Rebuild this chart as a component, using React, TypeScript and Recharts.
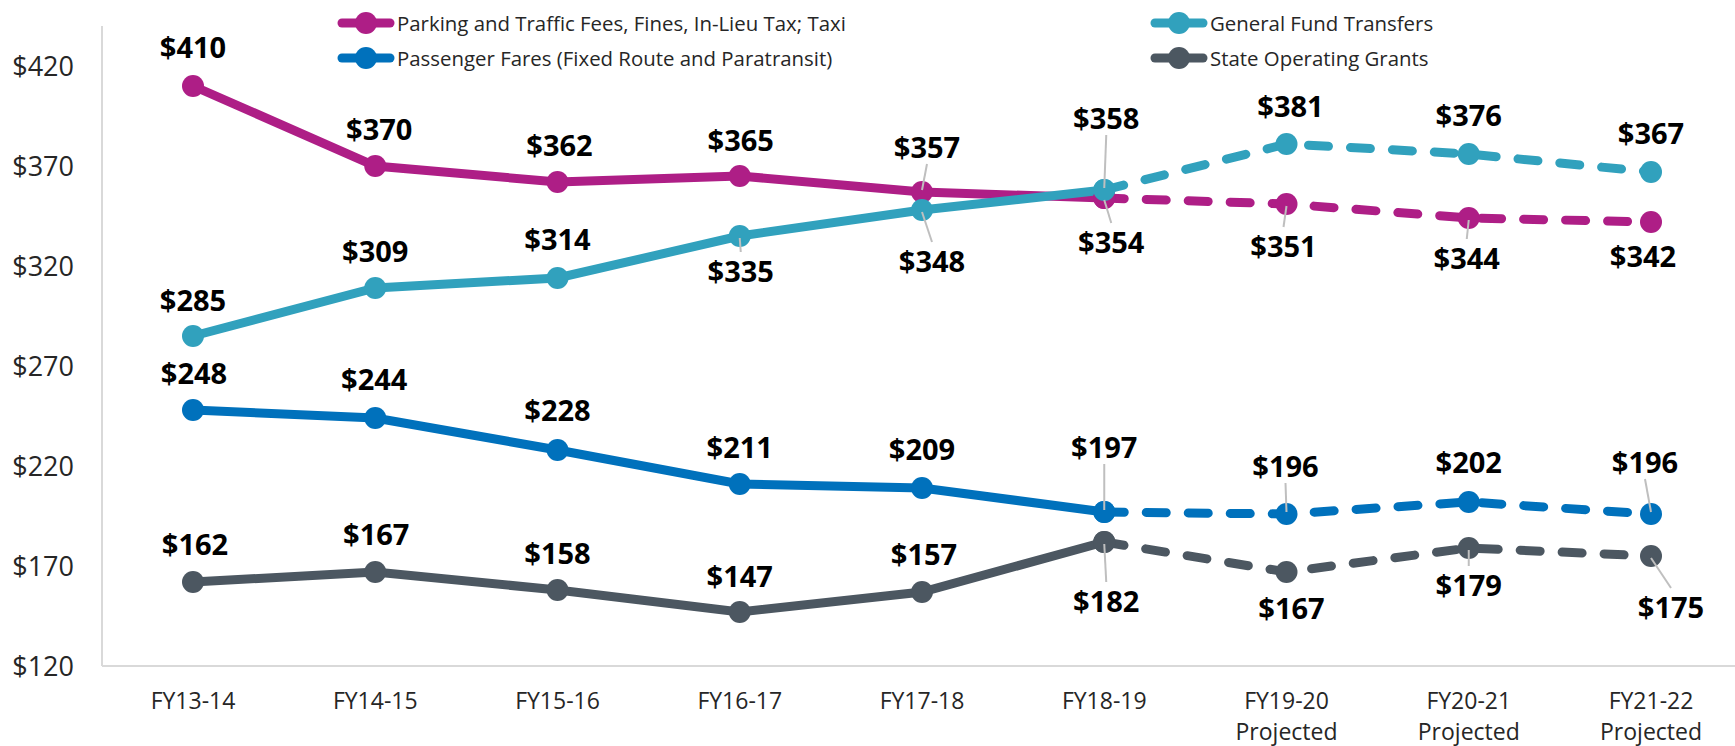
import React from 'react';
import { LineChart, Line, XAxis, YAxis, LabelList } from 'recharts';

const categories = ['FY13-14', 'FY14-15', 'FY15-16', 'FY16-17', 'FY17-18', 'FY18-19', 'FY19-20\nProjected', 'FY20-21\nProjected', 'FY21-22\nProjected'];
const parking = [410, 370, 362, 365, 357, 354, 351, 344, 342];
const generalFund = [285, 309, 314, 335, 348, 358, 381, 376, 367];
const passenger = [248, 244, 228, 211, 209, 197, 196, 202, 196];
const stateGrants = [162, 167, 158, 147, 157, 182, 167, 179, 175];
const yTicks = [120, 170, 220, 270, 320, 370, 420];
const lastActual = 5; // FY18-19, projections start after this

const FONT = '"Open Sans", sans-serif';

const series = [
    { key: 'parking', name: 'Parking and Traffic Fees, Fines, In-Lieu Tax; Taxi', values: parking, color: '#AE1E86' },
    { key: 'passenger', name: 'Passenger Fares (Fixed Route and Paratransit)', values: passenger, color: '#0071BC' },
    { key: 'state', name: 'State Operating Grants', values: stateGrants, color: '#4C5761' },
    { key: 'general', name: 'General Fund Transfers', values: generalFund, color: '#31A1BD' },
];

// label placement relative to each point: [dx, dy, leader line?]
const labelPos: Record<string, [number, number, boolean][]> = {
    parking: [[0, -40, false], [4, -38, false], [2, -38, false], [1, -37, false], [5, -46, true], [7, 43, true], [-3, 41, true], [-2, 39, true], [-8, 33, false]],
    general: [[0, -37, false], [0, -38, false], [0, -40, false], [1, 34, true], [10, 50, true], [2, -73, true], [4, -39, false], [0, -40, false], [0, -40, false]],
    passenger: [[1, -38, false], [-1, -40, false], [0, -41, false], [0, -38, false], [0, -40, false], [0, -66, true], [-1, -49, true], [0, -41, false], [-6, -53, true]],
    state: [[2, -39, false], [1, -39, false], [0, -38, false], [0, -37, false], [2, -39, false], [2, 58, true], [5, 35, false], [0, 36, true], [20, 50, true]],
};

const data = categories.map((c, i) => {
    const row: any = { name: c };
    series.forEach(s => {
        row[s.key] = s.values[i];
        row[s.key + 'Act'] = i <= lastActual ? s.values[i] : null;
        row[s.key + 'Proj'] = i >= lastActual ? s.values[i] : null;
    });
    return row;
});

const makeLabel = (key: string) => (props: any) => {
    const { x, y, index, value } = props;
    if (value == null) return null;
    const [dx, dy, leader] = labelPos[key][index];
    const lx = x + dx;
    const ly = y + dy;
    const s = dy < 0 ? 1 : -1;
    return (
        <g>
            {leader && (
                <line x1={lx} y1={ly + s * 18} x2={x} y2={y - s * 2} stroke="#BFBFBF" strokeWidth={2} />
            )}
            <text x={lx} y={ly} textAnchor="middle" dominantBaseline="central" fontFamily={FONT} fontSize={29} fontWeight={700} fill="#000">
                ${value}
            </text>
        </g>
    );
};

const XTick = (props: any) => {
    const { x, y, payload } = props;
    const lines = String(payload.value).split('\n');
    return (
        <g>
            {lines.map((l, i) => (
                <text key={i} x={x} y={y + 34 + i * 31} textAnchor="middle" dominantBaseline="central" fontFamily={FONT} fontSize={23} fill="#262626">
                    {l}
                </text>
            ))}
        </g>
    );
};

const legendItems = [
    { s: series[0], left: 337, top: 23 },
    { s: series[1], left: 337, top: 58 },
    { s: series[3], left: 1150, top: 23 },
    { s: series[2], left: 1150, top: 58 },
];

const LegendIcon = ({ color }: { color: string }) => (
    <svg width={58} height={26} style={{ position: 'absolute', left: 0, top: -13 }}>
        <line x1={5} y1={13} x2={53} y2={13} stroke={color} strokeWidth={9} strokeLinecap="round" />
        <circle cx={29} cy={13} r={11} fill={color} />
    </svg>
);

export default function App() {
    return (
        <div style={{ position: 'absolute', left: 0, top: 0, width: 1735, height: 746, overflow: 'hidden', background: '#fff' }}>
            <LineChart width={1742} height={746} data={data} margin={{ top: 26, right: 0, bottom: 0, left: 0 }}>
                <XAxis
                    dataKey="name"
                    height={80}
                    padding={{ left: 91, right: 91 }}
                    tickLine={false}
                    tickSize={0}
                    tickMargin={0}
                    stroke="#D9D9D9"
                    strokeWidth={2}
                    tick={<XTick />}
                    interval={0}
                />
                <YAxis
                    width={102}
                    domain={[120, 440]}
                    ticks={yTicks}
                    tickLine={false}
                    tickSize={0}
                    tickMargin={28}
                    stroke="#D9D9D9"
                    strokeWidth={2}
                    tick={{ fill: '#262626', fontSize: 27, fontFamily: FONT }}
                    tickFormatter={(v: number) => `$${v}`}
                />
                {series.map(s => (
                    <Line
                        key={s.key + 'Act'}
                        dataKey={s.key + 'Act'}
                        stroke={s.color}
                        strokeWidth={9}
                        dot={{ r: 11, fill: s.color, stroke: 'none' }}
                        activeDot={false}
                        connectNulls={false}
                        isAnimationActive={false}
                    />
                ))}
                {series.map(s => (
                    <Line
                        key={s.key + 'Proj'}
                        dataKey={s.key + 'Proj'}
                        stroke={s.color}
                        strokeWidth={9}
                        strokeDasharray="20 22"
                        strokeLinecap="round"
                        dot={{ r: 11, fill: s.color, stroke: 'none', strokeDasharray: '' }}
                        activeDot={false}
                        connectNulls={false}
                        isAnimationActive={false}
                    />
                ))}
                {series.map(s => (
                    <Line
                        key={s.key + 'Lbl'}
                        dataKey={s.key}
                        stroke="none"
                        dot={false}
                        activeDot={false}
                        isAnimationActive={false}
                    >
                        <LabelList dataKey={s.key} content={makeLabel(s.key)} />
                    </Line>
                ))}
            </LineChart>
            {legendItems.map(({ s, left, top }) => (
                <div key={s.key} style={{ position: 'absolute', left, top, height: 0 }}>
                    <LegendIcon color={s.color} />
                    <span style={{ position: 'absolute', left: 60, top: -14, whiteSpace: 'nowrap', fontFamily: FONT, fontSize: 20.4, lineHeight: '28px', color: '#262626' }}>
                        {s.name}
                    </span>
                </div>
            ))}
        </div>
    );
}
